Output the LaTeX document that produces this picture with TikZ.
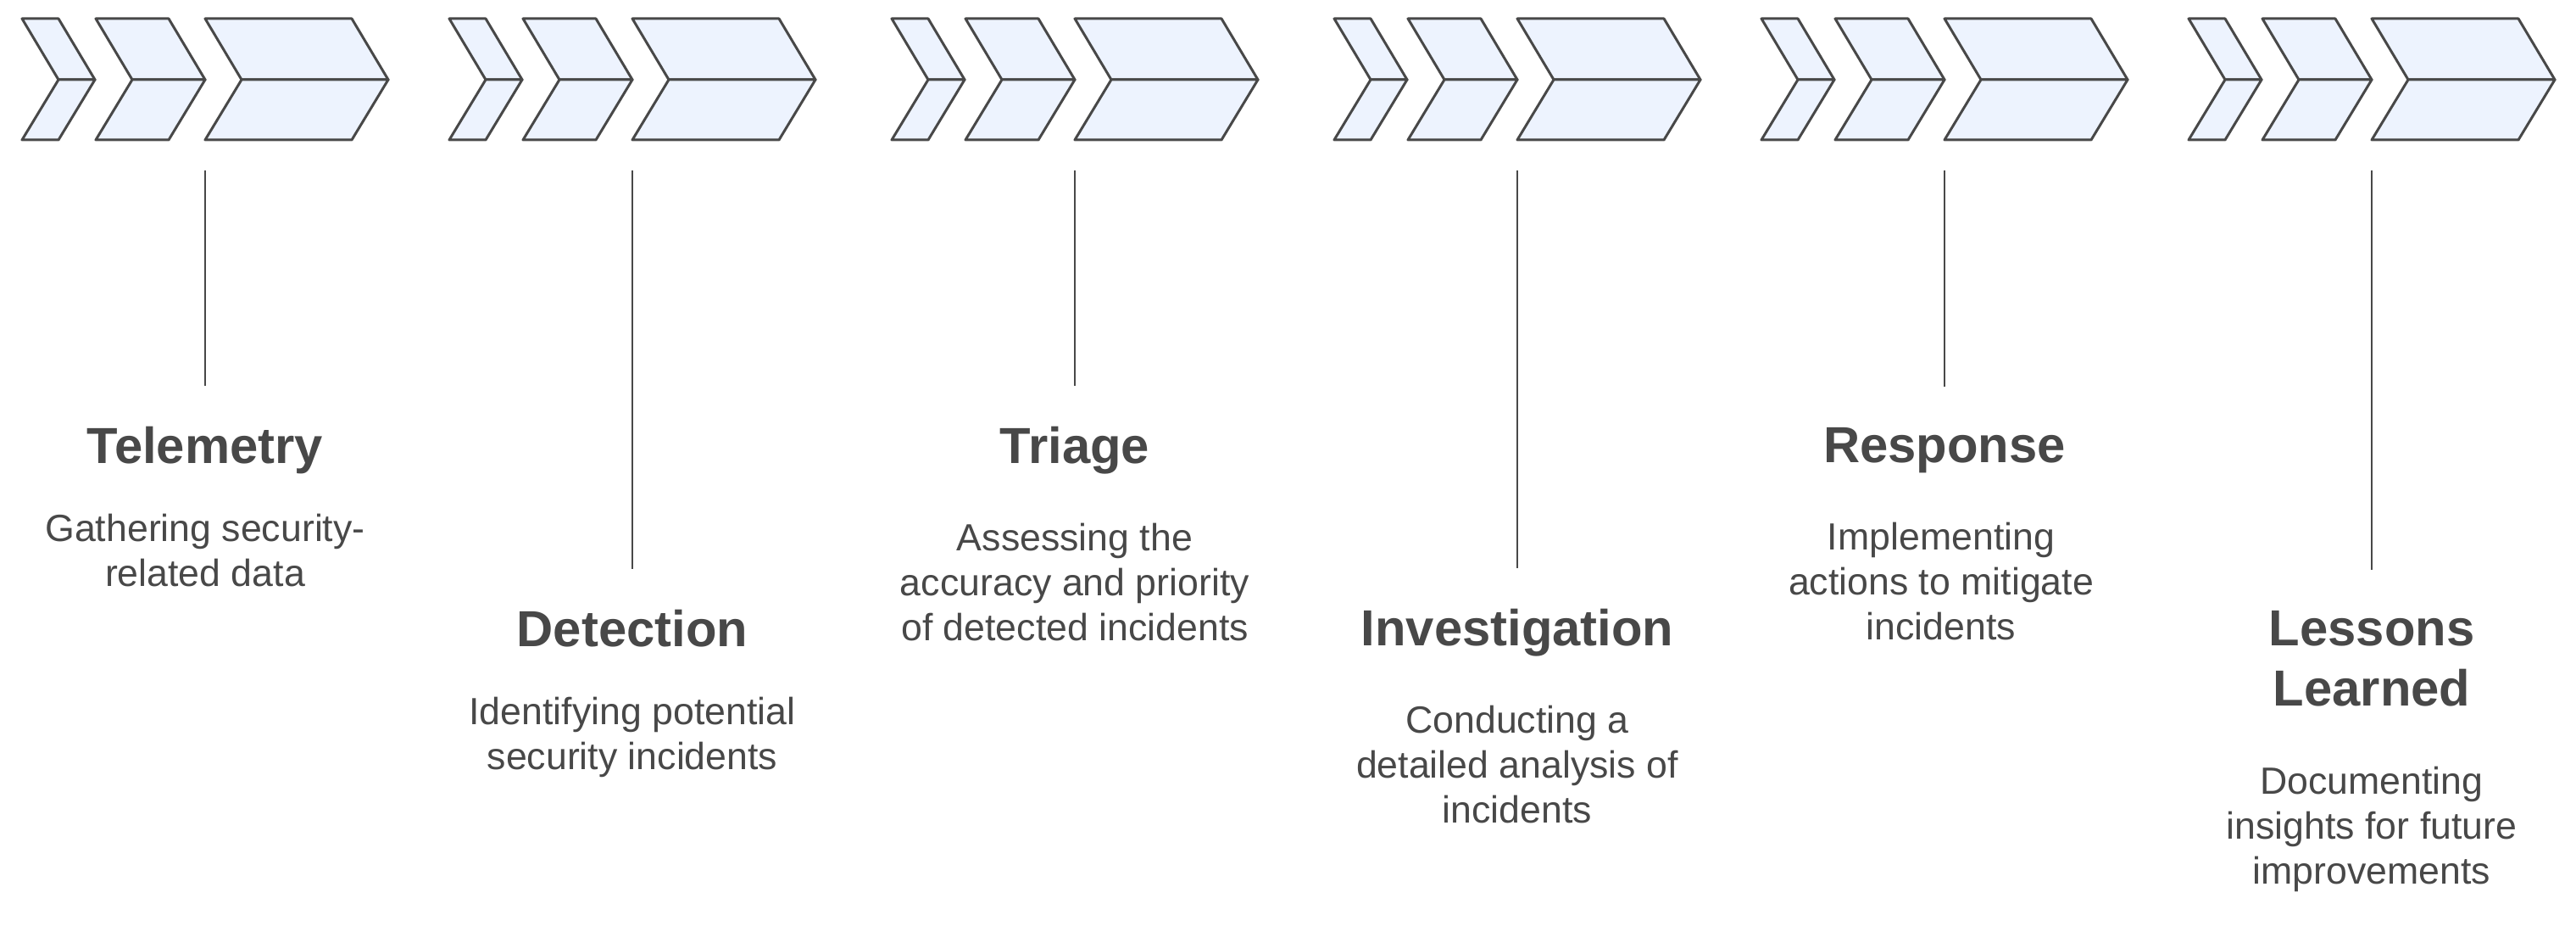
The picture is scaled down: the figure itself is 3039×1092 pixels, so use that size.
\documentclass[tikz,border=0pt]{standalone}
\usepackage{fontspec}
\setmainfont{Liberation Sans}
\definecolor{ink}{HTML}{484848}
\definecolor{chevfill}{HTML}{EDF3FE}

\begin{document}
\begin{tikzpicture}[x=0.01cm, y=-0.01cm,
    band/.style={draw=ink, fill=chevfill, line width=0.85pt, line join=round},
    stem/.style={draw=ink, line width=0.75pt},
    title/.style={font=\fontsize{17}{20.2}\selectfont\bfseries, text=ink,
                  align=center, anchor=base, inner sep=0pt, outer ysep=0.49cm},
    desc/.style={font=\fontsize{12.7}{15.1}\selectfont, text=ink,
                 align=center, anchor=base, inner sep=0pt}]
  \useasboundingbox (0,0) rectangle (3039,1092);

  % chevron groups, each chevron split into an upper and a lower half
  \foreach \L in {26,530,1052,1574,2078,2582} {
    \foreach \a/\b in {0/43, 87/173, 216/389} {
      \draw[band] (\L+\a,22) -- (\L+\b,22) -- (\L+\b+43,94) -- (\L+\a+43,94) -- cycle;
      \draw[band] (\L+\a+43,94) -- (\L+\b+43,94) -- (\L+\b,165) -- (\L+\a,165) -- cycle;
    }
  }

  % stems
  \coordinate (tel-top) at (242,201);
  \coordinate (det-top) at (746,201);
  \coordinate (tri-top) at (1268,201);
  \coordinate (inv-top) at (1790,201);
  \coordinate (res-top) at (2294,201);
  \coordinate (les-top) at (2798,201);

  % steps (base = baseline of the last line)
  \node[title] (tel) at (242,547) {Telemetry};
  \node[desc] (tel-d) at (242,692) {Gathering security-\\related data};

  \node[title] (det) at (746,763) {Detection};
  \node[desc] (det-d) at (746,908) {Identifying potential\\security incidents};

  \node[title] (tri) at (1268,547) {Triage};
  \node[desc] (tri-d) at (1268,756) {Assessing the\\accuracy and priority\\of detected incidents};

  \node[title] (inv) at (1790,762) {Investigation};
  \node[desc] (inv-d) at (1790,971) {Conducting a\\detailed analysis of\\incidents};

  \node[title] (res) at (2294,546) {Response};
  \node[desc] (res-d) at (2290,755) {Implementing\\actions to mitigate\\incidents};

  \node[title] (les) at (2798,833) {Lessons\\Learned};
  \node[desc] (les-d) at (2798,1043) {Documenting\\insights for future\\improvements};

  \draw[stem] (tel-top) -- (tel.north);
  \draw[stem] (det-top) -- (det.north);
  \draw[stem] (tri-top) -- (tri.north);
  \draw[stem] (inv-top) -- (inv.north);
  \draw[stem] (res-top) -- (res.north);
  \draw[stem] (les-top) -- (les.north);
\end{tikzpicture}
\end{document}
